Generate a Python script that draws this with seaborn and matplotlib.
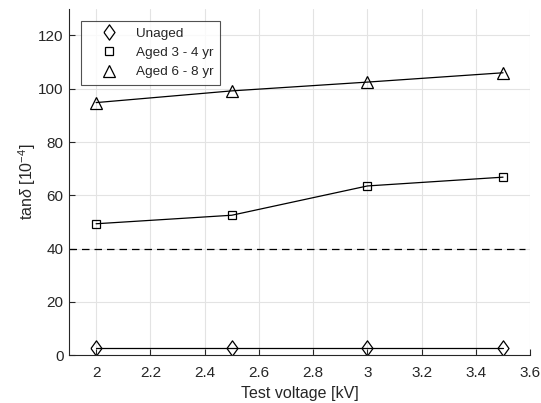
import matplotlib
matplotlib.use("Agg")
import matplotlib.pyplot as plt
import seaborn as sns
import pandas as pd

voltage = [2.0, 2.5, 3.0, 3.5]
unaged = [2.5, 2.5, 2.5, 2.5]
aged_3_4 = [49.3, 52.5, 63.5, 66.8]
aged_6_8 = [94.8, 99.2, 102.5, 106.0]
series_names = ["Unaged", "Aged 3 - 4 yr", "Aged 6 - 8 yr"]
threshold = 40
xticks = [2, 2.2, 2.4, 2.6, 2.8, 3, 3.2, 3.4, 3.6]
xtick_labels = ["2", "2.2", "2.4", "2.6", "2.8", "3", "3.2", "3.4", "3.6"]
yticks = [0, 20, 40, 60, 80, 100, 120]

diamond = [(-0.72, 0), (0, 1), (0.72, 0), (0, -1), (-0.72, 0)]
series_markers = [diamond, "s", "^"]
msizes = [11.0, 6.0, 8.0]

sns.set_theme(style="whitegrid")
plt.rcParams["font.family"] = ["Liberation Sans", "DejaVu Sans"]
plt.rcParams["mathtext.fontset"] = "custom"
plt.rcParams["mathtext.rm"] = "Liberation Sans"
plt.rcParams["mathtext.it"] = "Liberation Sans:italic"

fig = plt.figure(figsize=(5.41, 4.03), dpi=100)
ax = fig.add_axes([0.1275, 0.119, 0.8525, 0.859])

df = pd.DataFrame({"x": voltage * 3,
                   "y": unaged + aged_3_4 + aged_6_8,
                   "s": sum([[n] * len(voltage) for n in series_names], [])})

for name, m, ms in zip(series_names, series_markers, msizes):
    sub = df[df["s"] == name]
    sns.lineplot(data=sub, x="x", y="y", ax=ax, color="black", linewidth=0.9,
                 marker=m, markersize=ms, markerfacecolor="none",
                 markeredgecolor="black", markeredgewidth=0.9, label=name)

ax.axhline(threshold, xmin=0, xmax=(3.58 - 1.9) / (3.6 - 1.9), color="black",
           linestyle=(0, (6, 4)), linewidth=0.9)

ax.set_xlim(1.9, 3.6)
ax.set_ylim(0, 130)
ax.set_xticks(xticks)
ax.set_xticklabels(xtick_labels)
ax.set_yticks(yticks)
ax.grid(True, color="#e3e3e3", linewidth=0.8)
ax.set_facecolor("white")
for side in ["top", "right"]:
    ax.spines[side].set_visible(False)
for side in ["left", "bottom"]:
    ax.spines[side].set_color("#262626")
    ax.spines[side].set_linewidth(0.8)
ax.tick_params(axis="both", direction="in", length=4, width=0.8, colors="#262626",
               labelsize=11, labelcolor="#262626", left=True, bottom=True)
ax.tick_params(axis="x", pad=8)
ax.tick_params(axis="y", pad=4)
ax.set_xlabel("Test voltage [kV]", fontsize=11.5, color="#262626", labelpad=4)
ax.set_ylabel(r"tan$\it{\delta}$ [10$^{-4}$]", fontsize=11.5, color="#262626", labelpad=0)

leg = ax.legend(loc="upper left", bbox_to_anchor=(12 / 461, 1 - 12 / 346),
                borderaxespad=0, fontsize=9.7,
                frameon=True, fancybox=False, edgecolor="#262626",
                handlelength=3.1, handletextpad=0.45, borderpad=0.5, labelspacing=0.5)
leg.get_frame().set_linewidth(0.8)
for h in leg.get_lines():
    h.set_linestyle("none")

fig.savefig("out.png", dpi=100)
